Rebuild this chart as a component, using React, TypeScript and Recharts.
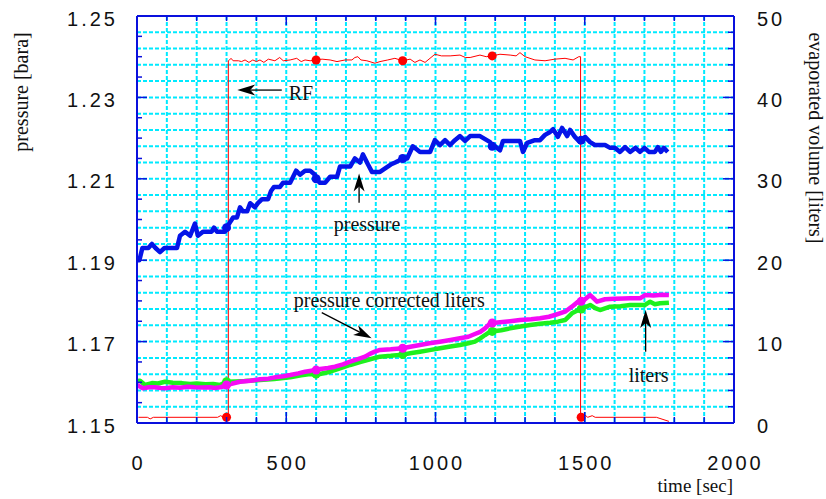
import React from 'react';
import { LineChart, Line, XAxis, YAxis, CartesianGrid, ReferenceLine, Label } from 'recharts';

// axis labels
const TIME_LABELS = [0, 500, 1000, 1500, 2000];
const PRESSURE_LABELS = [1.15, 1.17, 1.19, 1.21, 1.23, 1.25];
const VOLUME_LABELS = [0, 10, 20, 30, 40, 50];

// every ~300 s the logger puts a marker on each trace
const MARKER_TIMES = [300, 600, 890, 1190, 1488];

// minor tick positions (100 s, 0.005 bara, 2 liters)
const timeTicks = Array.from({ length: 21 }, (_, i) => i * 100);
const pressureTicks = Array.from({ length: 21 }, (_, i) => +(1.15 + i * 0.005).toFixed(3));
const volumeTicks = Array.from({ length: 26 }, (_, i) => i * 2);

// [time s, pressure bara]
const PRESSURE: [number, number][] = [
  [0, 1.19], [8, 1.19], [18, 1.193], [38, 1.193], [50, 1.194], [62, 1.193], [77, 1.192], [92, 1.193],
  [134, 1.193], [144, 1.196], [161, 1.197], [178, 1.196], [194, 1.199], [204, 1.196], [221, 1.197],
  [250, 1.197], [258, 1.198], [268, 1.197], [295, 1.197], [300, 1.198], [322, 1.2005], [335, 1.2005],
  [345, 1.203], [355, 1.202], [369, 1.202], [379, 1.204], [395, 1.203], [405, 1.204], [419, 1.205],
  [439, 1.205], [449, 1.207], [459, 1.208], [479, 1.208], [489, 1.209], [513, 1.209], [523, 1.2105],
  [533, 1.212], [546, 1.211], [563, 1.212], [580, 1.212], [596, 1.211], [600, 1.21], [613, 1.209],
  [630, 1.209], [647, 1.2105], [670, 1.2105], [680, 1.213], [714, 1.213], [730, 1.215], [747, 1.214],
  [757, 1.216], [774, 1.2135], [787, 1.2117], [814, 1.2117], [830, 1.2125], [850, 1.2135], [865, 1.214],
  [878, 1.2145], [890, 1.215], [905, 1.215], [924, 1.218], [948, 1.2166], [982, 1.2166], [998, 1.2195],
  [1015, 1.2183], [1032, 1.2195], [1049, 1.2183], [1065, 1.2195], [1082, 1.2205], [1099, 1.2193],
  [1116, 1.2205], [1149, 1.2205], [1183, 1.219], [1190, 1.218], [1199, 1.218], [1216, 1.217],
  [1226, 1.2193], [1283, 1.2193], [1293, 1.2166], [1307, 1.2188], [1333, 1.2195], [1350, 1.2195],
  [1367, 1.2208], [1384, 1.2215], [1394, 1.2222], [1410, 1.2203], [1424, 1.2225], [1441, 1.2205],
  [1451, 1.222], [1467, 1.2203], [1484, 1.219], [1488, 1.2195], [1501, 1.2203], [1518, 1.219],
  [1534, 1.2183], [1568, 1.2183], [1585, 1.2176], [1601, 1.2176], [1618, 1.2166], [1635, 1.2178],
  [1652, 1.2166], [1670, 1.2176], [1685, 1.2166], [1700, 1.2176], [1715, 1.2166], [1735, 1.2166],
  [1745, 1.2178], [1755, 1.2166], [1765, 1.2176], [1778, 1.2166],
];

// [time s, RF signal on the volume scale]
const RF: [number, number][] = [
  [5, 0.7], [35, 0.7], [44, 0.5], [55, 0.7], [270, 0.7], [280, 0.9], [290, 0.7], [300, 0.7], [306, 0.7],
  [306, 44.5], [310, 44.6], [315, 44.8], [322, 44.5], [340, 44.5], [350, 44.4], [362, 44.6], [375, 44.3],
  [388, 44.6], [400, 44.4], [412, 44.6], [425, 44.3], [440, 44.7], [462, 44.5], [478, 44.9], [490, 44.5],
  [513, 44.6], [535, 44.8], [550, 44.4], [563, 44.6], [580, 44.5], [600, 44.6], [620, 44.7], [647, 44.6],
  [670, 44.4], [697, 44.6], [720, 44.6], [730, 44.9], [740, 45.0], [750, 44.6], [770, 44.5], [797, 44.2],
  [814, 44.4], [840, 44.6], [864, 44.8], [890, 44.5], [915, 44.7], [931, 44.3], [948, 44.6], [965, 44.3],
  [998, 45.3], [1020, 45.1], [1049, 45.1], [1082, 45.2], [1100, 44.9], [1116, 44.9], [1149, 45.2],
  [1170, 45.0], [1190, 45.1], [1216, 45.3], [1250, 45.2], [1270, 45.1], [1283, 45.5], [1300, 45.0],
  [1333, 44.6], [1367, 44.5], [1400, 44.7], [1434, 44.8], [1461, 44.6], [1480, 45.0], [1486, 45.0],
  [1486, 0.8], [1488, 0.7], [1500, 1.0], [1510, 0.7], [1525, 0.9], [1535, 0.7], [1740, 0.7], [1782, 0.2],
];

// [time s, liters]
const LITERS: [number, number][] = [
  [0, 5.16], [10, 5.2], [27, 4.67], [50, 4.9], [70, 4.85], [94, 5.07], [120, 4.95], [150, 4.9],
  [178, 4.79], [200, 4.85], [230, 4.75], [255, 4.8], [278, 4.67], [300, 5.07], [330, 5.1], [360, 5.15],
  [412, 5.28], [460, 5.4], [513, 5.61], [550, 5.85], [580, 6.02], [600, 6.0], [613, 6.02], [647, 6.3],
  [680, 6.7], [714, 7.13], [750, 7.5], [781, 7.83], [814, 8.15], [850, 8.25], [890, 8.4], [920, 8.6],
  [948, 8.76], [980, 8.95], [1015, 9.18], [1050, 9.4], [1082, 9.58], [1110, 9.8], [1132, 9.99],
  [1150, 10.4], [1166, 10.81], [1183, 11.22], [1190, 11.25], [1220, 11.4], [1250, 11.63], [1285, 11.85],
  [1317, 12.04], [1350, 12.2], [1384, 12.32], [1410, 12.45], [1434, 12.65], [1457, 13.48], [1484, 13.97],
  [1488, 14.0], [1518, 14.5], [1535, 14.1], [1551, 13.88], [1585, 14.29], [1620, 14.35], [1652, 14.5],
  [1702, 14.5], [1719, 14.9], [1735, 14.6], [1752, 14.7], [1782, 14.78],
];

// [time s, pressure corrected liters]
const CORRECTED: [number, number][] = [
  [0, 4.67], [20, 4.26], [40, 4.4], [60, 4.39], [80, 4.3], [94, 4.26], [120, 4.4], [144, 4.34],
  [170, 4.45], [194, 4.39], [220, 4.35], [245, 4.39], [260, 4.3], [278, 4.39], [295, 4.55], [300, 4.67],
  [320, 4.85], [345, 5.07], [380, 5.2], [412, 5.37], [440, 5.45], [462, 5.61], [490, 5.75], [513, 5.9],
  [540, 6.1], [563, 6.3], [600, 6.5], [613, 6.63], [640, 6.75], [663, 6.92], [690, 7.2], [714, 7.53],
  [740, 7.85], [764, 8.15], [780, 8.5], [797, 8.76], [814, 8.97], [850, 9.05], [890, 9.18], [920, 9.4],
  [948, 9.58], [980, 9.8], [1015, 9.99], [1050, 10.2], [1082, 10.41], [1110, 10.6], [1132, 10.93],
  [1150, 11.2], [1166, 11.63], [1183, 12.25], [1190, 12.28], [1216, 12.37], [1250, 12.5], [1283, 12.65],
  [1320, 12.75], [1350, 12.86], [1380, 13.05], [1400, 13.27], [1434, 13.67], [1457, 14.29], [1477, 14.9],
  [1488, 14.95], [1501, 15.2], [1518, 15.72], [1530, 15.3], [1541, 14.9], [1568, 15.2], [1600, 15.25],
  [1630, 15.3], [1652, 15.32], [1685, 15.32], [1702, 15.72], [1730, 15.65], [1760, 15.75], [1782, 15.72],
];

const AXIS = '#0a10dd';
const GRID = '#00eaff';
const SERIF = '"Liberation Serif", "Times New Roman", serif';
const tickFont = {
  fontFamily: '"Liberation Sans", Arial, sans-serif',
  fontSize: 20,
  letterSpacing: 3,
  fill: '#111',
};

// first point at each marker time gets a dot
const toPoints = (rows: [number, number][]) => {
  const seen = new Set<number>();
  return rows.map(([t, v]) => {
    const m = MARKER_TIMES.includes(t) && !seen.has(t);
    if (m) seen.add(t);
    return { t, v, m };
  });
};

const markerDot = (color: string) => (props: any) => {
  const { cx, cy, payload, index } = props;
  if (!payload || !payload.m) return <g key={`n${index}`} />;
  return <circle key={`m${index}`} cx={cx} cy={cy} r={4.5} fill={color} stroke="none" />;
};

const LeftTick = (props: any) => {
  const { x, y, payload } = props;
  const v = payload.value;
  const major = PRESSURE_LABELS.some((l) => Math.abs(l - v) < 1e-6);
  const ax = x + 19;
  return (
    <g>
      <line x1={ax} x2={ax + (major ? 10 : 5)} y1={y} y2={y} stroke={AXIS} strokeWidth={1.5} />
      {major && (
        <text x={x} y={y + 9.5} textAnchor="end" {...tickFont}>
          {v.toFixed(2)}
        </text>
      )}
    </g>
  );
};

const RightTick = (props: any) => {
  const { x, y, payload } = props;
  const v = payload.value;
  const major = VOLUME_LABELS.includes(v);
  const ax = x - 23;
  return (
    <g>
      <line x1={ax} x2={ax - (major ? 11 : 6)} y1={y} y2={y} stroke={AXIS} strokeWidth={1.5} />
      {major && (
        <text x={x} y={y + 9.5} textAnchor="start" {...tickFont}>
          {v}
        </text>
      )}
    </g>
  );
};

const BottomTick = (props: any) => {
  const { x, y, payload } = props;
  const v = payload.value;
  const major = TIME_LABELS.includes(v);
  return (
    <g>
      <line x1={x} x2={x} y1={y} y2={y - (major ? 11 : 6)} stroke={AXIS} strokeWidth={1.5} />
      {major && (
        <text x={x + 1.5} y={y + 47} textAnchor="middle" {...tickFont}>
          {v}
        </text>
      )}
    </g>
  );
};

const TopTick = (props: any) => {
  const { x, y, payload } = props;
  const major = TIME_LABELS.includes(payload.value);
  return <line x1={x} x2={x} y1={y} y2={y + (major ? 9 : 5)} stroke={AXIS} strokeWidth={1.5} />;
};

// thin black arrow with a notched head, plus its caption placed relative to the tail
const Arrow = (props: any) => {
  const { x1, y1, x2, y2, text, dx, dy, anchor } = props;
  const len = Math.hypot(x2 - x1, y2 - y1) || 1;
  const ux = (x2 - x1) / len;
  const uy = (y2 - y1) / len;
  const L = 18;
  const W = 5.5;
  const bx = x2 - ux * L;
  const by = y2 - uy * L;
  const nx = x2 - ux * L * 0.72;
  const ny = y2 - uy * L * 0.72;
  const head = `${x2},${y2} ${bx - uy * W},${by + ux * W} ${nx},${ny} ${bx + uy * W},${by - ux * W}`;
  return (
    <g>
      <line x1={x1} y1={y1} x2={nx} y2={ny} stroke="#000" strokeWidth={1.3} />
      <polygon points={head} fill="#000" />
      <text x={x1 + dx} y={y1 + dy} textAnchor={anchor} fontFamily={SERIF} fontSize={20} fill="#111">
        {text}
      </text>
    </g>
  );
};

export default function App() {
  return (
    <div style={{ position: 'absolute', left: 0, top: 0, width: 826, height: 499, background: '#fff' }}>
      <LineChart width={826} height={499} margin={{ top: 0, right: 0, bottom: 0, left: 0 }}>
        <XAxis
          xAxisId={0}
          dataKey="t"
          type="number"
          domain={[0, 2000]}
          ticks={timeTicks}
          interval={0}
          allowDataOverflow
          height={76}
          tickSize={0}
          tickMargin={0}
          tickLine={false}
          axisLine={{ stroke: AXIS, strokeWidth: 2 }}
          tick={<BottomTick />}
        >
          <Label
            content={() => (
              <text x={733} y={492} textAnchor="end" fontFamily={SERIF} fontSize={19} fill="#111">
                time [sec]
              </text>
            )}
          />
        </XAxis>
        <XAxis
          xAxisId="top"
          orientation="top"
          dataKey="t"
          type="number"
          domain={[0, 2000]}
          ticks={timeTicks}
          interval={0}
          allowDataOverflow
          height={16}
          tickSize={0}
          tickMargin={0}
          tickLine={false}
          axisLine={{ stroke: AXIS, strokeWidth: 2 }}
          tick={<TopTick />}
        />
        <YAxis
          yAxisId="p"
          type="number"
          domain={[1.15, 1.25]}
          ticks={pressureTicks}
          interval={0}
          allowDataOverflow
          width={137}
          tickSize={0}
          tickMargin={19}
          tickLine={false}
          axisLine={{ stroke: AXIS, strokeWidth: 2 }}
          tick={<LeftTick />}
        >
          <Label
            content={() => (
              <text
                x={28}
                y={92}
                transform="rotate(-90, 28, 92)"
                textAnchor="middle"
                fontFamily={SERIF}
                fontSize={20}
                fill="#111"
              >
                pressure [bara]
              </text>
            )}
          />
        </YAxis>
        <YAxis
          yAxisId="L"
          orientation="right"
          type="number"
          domain={[0, 50]}
          ticks={volumeTicks}
          interval={0}
          allowDataOverflow
          width={92}
          tickSize={0}
          tickMargin={23}
          tickLine={false}
          axisLine={{ stroke: AXIS, strokeWidth: 2 }}
          tick={<RightTick />}
        >
          <Label
            content={() => (
              <text
                x={809}
                y={138}
                transform="rotate(90, 809, 138)"
                textAnchor="middle"
                fontFamily={SERIF}
                fontSize={20}
                fill="#111"
              >
                evaporated volume [liters]
              </text>
            )}
          />
        </YAxis>

        <CartesianGrid xAxisId={0} yAxisId="L" stroke={GRID} strokeWidth={2} strokeDasharray="4 2" />

        <Line
          data={toPoints(RF)}
          dataKey="v"
          yAxisId="L"
          type="linear"
          stroke="#ff0000"
          strokeWidth={1}
          dot={markerDot('#ff0000')}
          activeDot={false}
          isAnimationActive={false}
        />
        <Line
          data={toPoints(LITERS)}
          dataKey="v"
          yAxisId="L"
          type="linear"
          stroke="#1ef01e"
          strokeWidth={4.5}
          strokeLinejoin="round"
          dot={markerDot('#1ef01e')}
          activeDot={false}
          isAnimationActive={false}
        />
        <Line
          data={toPoints(CORRECTED)}
          dataKey="v"
          yAxisId="L"
          type="linear"
          stroke="#f50af5"
          strokeWidth={4.5}
          strokeLinejoin="round"
          dot={markerDot('#f50af5')}
          activeDot={false}
          isAnimationActive={false}
        />
        <Line
          data={toPoints(PRESSURE)}
          dataKey="v"
          yAxisId="p"
          type="linear"
          stroke="#0514e8"
          strokeWidth={4.5}
          strokeLinejoin="round"
          dot={markerDot('#0514e8')}
          activeDot={false}
          isAnimationActive={false}
        />

        <ReferenceLine
          yAxisId="p"
          segment={[{ x: 485, y: 1.2318 }, { x: 336, y: 1.2318 }]}
          shape={(p: any) => <Arrow {...p} text="RF" dx={7} dy={10} anchor="start" />}
        />
        <ReferenceLine
          yAxisId="p"
          segment={[{ x: 744, y: 1.2041 }, { x: 744, y: 1.2113 }]}
          shape={(p: any) => <Arrow {...p} text="pressure" dx={8} dy={28} anchor="middle" />}
        />
        <ReferenceLine
          yAxisId="L"
          segment={[{ x: 619, y: 13.55 }, { x: 786, y: 10.41 }]}
          shape={(p: any) => <Arrow {...p} text="pressure corrected liters" dx={-28} dy={-6} anchor="start" />}
        />
        <ReferenceLine
          yAxisId="L"
          segment={[{ x: 1704, y: 8.76 }, { x: 1704, y: 13.88 }]}
          shape={(p: any) => <Arrow {...p} text="liters" dx={3} dy={30} anchor="middle" />}
        />
      </LineChart>
    </div>
  );
}
